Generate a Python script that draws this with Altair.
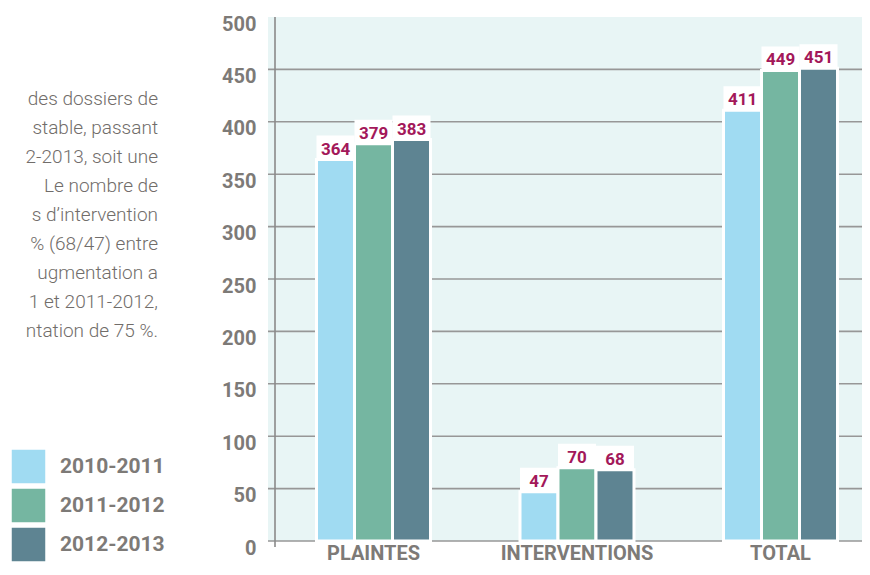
import altair as alt
import pandas as pd

categories = ["PLAINTES", "INTERVENTIONS", "TOTAL"]
years = ["2010-2011", "2011-2012", "2012-2013"]
v_2010_2011 = [364, 47, 411]
v_2011_2012 = [379, 70, 449]
v_2012_2013 = [383, 68, 451]
y_tick_values = [0, 50, 100, 150, 200, 250, 300, 350, 400, 450, 500]
grid_values = [0, 50, 100, 150, 200, 250, 300, 350, 400, 450]
colors = ["#a0dbf2", "#75b6a1", "#5e8492"]
paragraph_lines = [
    "des dossiers de",
    "stable, passant",
    "2-2013, soit une",
    "Le nombre de",
    "s d\u2019intervention",
    "% (68/47) entre",
    "ugmentation a",
    "1 et 2011-2012,",
    "ntation de 75 %.",
]

rows = []
for yr, vals in zip(years, [v_2010_2011, v_2011_2012, v_2012_2013]):
    for c, v in zip(categories, vals):
        rows.append({"cat": c, "year": yr, "value": v})
df = pd.DataFrame(rows)
grid_df = pd.DataFrame({"value": grid_values})

FONT = "Roboto"
GRAY = "#7d7a77"
W, H = 594, 524

yscale = alt.Scale(domain=[0, 500], nice=False, zero=True)
yaxis = alt.Axis(values=y_tick_values, title=None, labelFontSize=20, labelFontWeight="bold",
                 labelColor=GRAY, labelFont=FONT, labelPadding=12, labelOffset=7,
                 domain=False, ticks=False, grid=False)
xscale = alt.Scale(domain=categories, range=[3.75, 614.25], paddingInner=0, paddingOuter=0)
xaxis = alt.Axis(title=None, labelAngle=0, labelFontSize=20, labelFontWeight="bold",
                 labelColor=GRAY, labelFont=FONT, labelPadding=2, labelBaseline="top",
                 domain=False, ticks=False, grid=False)
xoff = alt.XOffset("year:N", scale=alt.Scale(domain=years, range=[44.75, 158.75],
                                              paddingInner=0, paddingOuter=0))

grid = alt.Chart(grid_df).mark_rule(color="#979797", strokeWidth=1.6).encode(
    y=alt.Y("value:Q", scale=yscale, axis=yaxis),
    x=alt.value(0), x2=alt.value(W),
)

vline = alt.Chart(pd.DataFrame({"a": [0]})).mark_rule(color="#8a8a8a", strokeWidth=1.6).encode(
    x=alt.value(7), y=alt.value(0), y2=alt.value(H + 6)
)

bars = alt.Chart(df).mark_bar(stroke="white", strokeWidth=3).encode(
    x=alt.X("cat:N", scale=xscale, axis=xaxis, sort=categories),
    xOffset=xoff,
    y=alt.Y("value:Q", scale=yscale, axis=yaxis),
    color=alt.Color("year:N", scale=alt.Scale(domain=years, range=colors),
                    legend=alt.Legend(orient="none", legendX=-258, legendY=431, title=None,
                                      symbolType="square", symbolSize=1225,
                                      symbolStrokeColor="white", symbolStrokeWidth=1.5,
                                      symbolOpacity=1,
                                      labelFontSize=21, labelFontWeight="bold", labelColor=GRAY,
                                      labelFont=FONT, labelOffset=13, rowPadding=-2.8, padding=0)),
)

boxes = alt.Chart(df).mark_tick(color="white", opacity=1, thickness=24, size=38, yOffset=-12).encode(
    x=alt.X("cat:N", scale=xscale, axis=xaxis, sort=categories),
    xOffset=xoff,
    y=alt.Y("value:Q", scale=yscale, axis=yaxis),
)

labels = alt.Chart(df).mark_text(color="#a3185a", font=FONT, fontSize=17, fontWeight="bold",
                                 baseline="alphabetic", dy=-5).encode(
    x=alt.X("cat:N", scale=xscale, axis=xaxis, sort=categories),
    xOffset=xoff,
    y=alt.Y("value:Q", scale=yscale, axis=yaxis),
    text=alt.Text("value:Q"),
)

para = alt.Chart(pd.DataFrame({"a": [0]})).mark_text(
    text=paragraph_lines, align="right", baseline="alphabetic", lineHeight=29,
    font=FONT, fontSize=19, fontWeight=300, color="#716d6a"
).encode(x=alt.value(-110), y=alt.value(88))

chart = alt.layer(grid, vline, bars, boxes, labels, para).properties(
    width=W, height=H,
    autosize=alt.AutoSizeParams(type="none"),
    padding={"left": 260, "top": 9, "right": 0, "bottom": 26},
).configure_view(fill="#e8f5f5", stroke=None)

chart.save("out.html", embed_options={"renderer": "svg", "actions": False})
